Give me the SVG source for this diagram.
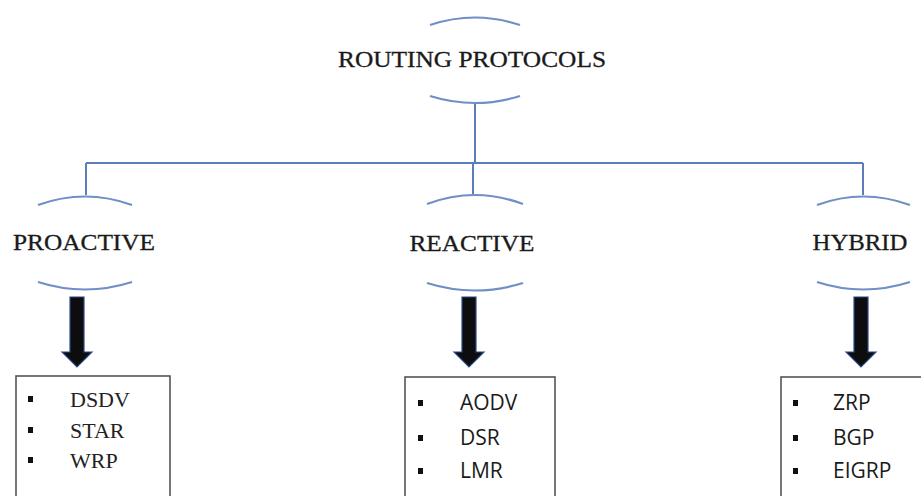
<svg xmlns="http://www.w3.org/2000/svg" width="921" height="496" viewBox="0 0 921 496">
<defs>
<style>
.arc{fill:none;stroke:#6f8fc6;stroke-width:2.2}
.ln{fill:none;stroke:#5b7dbb;stroke-width:2}
.hd{font-family:"Liberation Serif","DejaVu Serif",serif;font-size:23px;fill:#1a1a1a;stroke:#1a1a1a;stroke-width:0.3}
.sr{font-family:"Liberation Serif","DejaVu Serif",serif;font-size:22px;fill:#222}
.ss{font-family:"Open Sans","Noto Sans","Liberation Sans",sans-serif;font-size:21px;fill:#1a1a1a}
.box{fill:#fff;stroke:#555;stroke-width:1.6}
.bul{fill:#111}
.arr{fill:#0d0d0d;stroke:#2a4a8a;stroke-width:1.2}
</style>
<path id="ar" d="M-7,0 H7 V55 H15 L0,70 L-15,55 H-7 Z"/>
</defs>
<g id="connectors">
<path class="ln" d="M475,103 V163 M86,163 H863 M86,163 V195 M473,163 V194 M863,163 V195"/>
<use href="#ar" class="arr" x="77" y="297"/>
<use href="#ar" class="arr" x="469" y="297"/>
<use href="#ar" class="arr" x="861" y="297"/>
</g>
<g id="root">
<path class="arc" d="M430,25 Q475,10 520,25"/>
<path class="arc" d="M430,96 Q475,110 520,96"/>
<text class="hd" x="472" y="67" text-anchor="middle" textLength="268" lengthAdjust="spacingAndGlyphs">ROUTING PROTOCOLS</text>
</g>
<g id="proactive">
<path class="arc" d="M38,205 Q85,188 132,205"/>
<path class="arc" d="M38,282 Q85,297 132,282"/>
<text class="hd" x="84" y="250" text-anchor="middle" textLength="142" lengthAdjust="spacingAndGlyphs">PROACTIVE</text>
</g>
<g id="reactive">
<path class="arc" d="M427,204 Q475,186 523,204"/>
<path class="arc" d="M427,283 Q475,298 523,283"/>
<text class="hd" x="472" y="251" text-anchor="middle" textLength="125" lengthAdjust="spacingAndGlyphs">REACTIVE</text>
</g>
<g id="hybrid">
<path class="arc" d="M817,205 Q863,188 910,205"/>
<path class="arc" d="M817,282 Q863,297 910,282"/>
<text class="hd" x="860" y="250" text-anchor="middle" textLength="95" lengthAdjust="spacingAndGlyphs">HYBRID</text>
</g>
<g id="proactive-list">
<rect class="box" x="16" y="376" width="154" height="130"/>
<rect class="bul" x="28" y="396" width="5" height="6"/>
<rect class="bul" x="28" y="427" width="5" height="6"/>
<rect class="bul" x="28" y="457" width="5" height="6"/>
<text class="sr" x="70" y="407">DSDV</text>
<text class="sr" x="70" y="438">STAR</text>
<text class="sr" x="70" y="468">WRP</text>
</g>
<g id="reactive-list">
<rect class="box" x="405" y="377" width="150" height="130"/>
<rect class="bul" x="418" y="400" width="5" height="6"/>
<rect class="bul" x="418" y="435" width="5" height="6"/>
<rect class="bul" x="418" y="468" width="5" height="6"/>
<text class="ss" x="460" y="410">AODV</text>
<text class="ss" x="460" y="445">DSR</text>
<text class="ss" x="460" y="478">LMR</text>
</g>
<g id="hybrid-list">
<rect class="box" x="781" y="377" width="150" height="130"/>
<rect class="bul" x="793" y="400" width="5" height="6"/>
<rect class="bul" x="793" y="435" width="5" height="6"/>
<rect class="bul" x="793" y="468" width="5" height="6"/>
<text class="ss" x="833" y="410">ZRP</text>
<text class="ss" x="833" y="445">BGP</text>
<text class="ss" x="833" y="478">EIGRP</text>
</g>
</svg>
